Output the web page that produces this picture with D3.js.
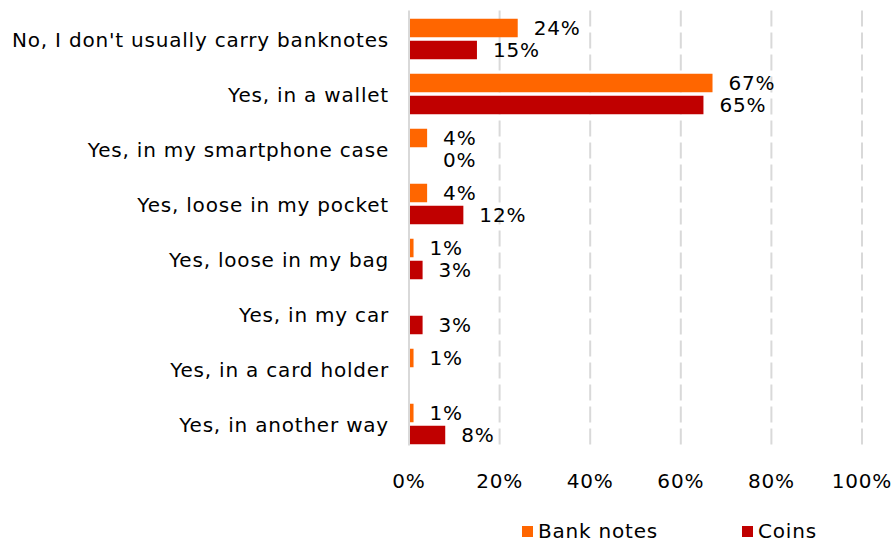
<!DOCTYPE html>
<html>
<head>
<meta charset="utf-8">
<script src="https://cdn.jsdelivr.net/npm/d3@7"></script>
<style>
  html, body { margin: 0; padding: 0; background: #fff; }
  svg { display: block; font-family: "DejaVu Sans", Verdana, sans-serif; }
  svg text { letter-spacing: 0.8px; }
</style>
</head>
<body>
<svg id="chart" width="894" height="542"></svg>
<script>
// Where people carry banknotes and coins (share of respondents, %)
const categories = [
  "No, I don't usually carry banknotes",
  "Yes, in a wallet",
  "Yes, in my smartphone case",
  "Yes, loose in my pocket",
  "Yes, loose in my bag",
  "Yes, in my car",
  "Yes, in a card holder",
  "Yes, in another way"
];
const seriesNames = ["Bank notes", "Coins"];
const bankNotes = [24, 67, 4, 4, 1, null, 1, 1];
const coins     = [15, 65, 0, 12, 3, 3, null, 8];
const xTicks = [0, 20, 40, 60, 80, 100];
const colors = ["#FF6600", "#C00000"];

const svg = d3.select("#chart");
const margin = { left: 409, right: 32, top: 11.5, bottom: 94 };
const W = 894, H = 542;
const FS = 20;

const x = d3.scaleLinear().domain([0, 100]).range([margin.left, W - margin.right]);
const y = d3.scaleBand().domain(categories).range([margin.top, margin.top + 55 * categories.length]).paddingInner(0).paddingOuter(0);
const barH = 18.5, barGap = 3.5;
const sub = d3.scaleOrdinal().domain(seriesNames).range([-(barGap / 2 + barH), barGap / 2]);

const series = [bankNotes, coins];
const rows = [];
series.forEach((vals, si) => {
  vals.forEach((v, ci) => {
    if (v !== null) rows.push({ s: seriesNames[si], si, c: categories[ci], v });
  });
});

const plotTop = margin.top - 1, plotBottom = y.range()[1] - 6;

// dashed vertical gridlines
svg.append("g")
  .selectAll("line")
  .data(xTicks.filter(t => t > 0))
  .join("line")
  .attr("x1", d => x(d)).attr("x2", d => x(d))
  .attr("y1", plotTop).attr("y2", plotBottom)
  .attr("stroke", "#d9d9d9").attr("stroke-width", 2)
  .attr("stroke-dasharray", "16,6");

// bars
svg.append("g")
  .selectAll("rect")
  .data(rows)
  .join("rect")
  .attr("x", x(0))
  .attr("y", d => y(d.c) + y.bandwidth() / 2 + sub(d.s))
  .attr("width", d => x(d.v) - x(0))
  .attr("height", barH)
  .attr("fill", d => colors[d.si]);

// value labels
svg.append("g")
  .selectAll("text")
  .data(rows)
  .join("text")
  .attr("x", d => x(d.v) + (d.v === 0 ? 34 : 16))
  .attr("y", d => y(d.c) + y.bandwidth() / 2 + sub(d.s) + barH / 2)
  .attr("dy", "0.36em")
  .attr("font-size", FS)
  .attr("fill", "#000")
  .text(d => d.v + "%");

// vertical axis line
svg.append("line")
  .attr("x1", x(0)).attr("x2", x(0))
  .attr("y1", plotTop).attr("y2", plotBottom)
  .attr("stroke", "#d9d9d9").attr("stroke-width", 2);

// category labels
svg.append("g")
  .selectAll("text")
  .data(categories)
  .join("text")
  .attr("x", x(0) - 20)
  .attr("y", d => y(d) + y.bandwidth() / 2 + 1)
  .attr("dy", "0.36em")
  .attr("text-anchor", "end")
  .attr("font-size", FS)
  .attr("fill", "#000")
  .text(d => d);

// x tick labels
svg.append("g")
  .selectAll("text")
  .data(xTicks)
  .join("text")
  .attr("x", d => x(d))
  .attr("y", 481)
  .attr("dy", "0.36em")
  .attr("text-anchor", "middle")
  .attr("font-size", FS)
  .attr("fill", "#000")
  .text(d => d + "%");

// legend
const legendX = [522, 742];
const lg = svg.append("g")
  .selectAll("g")
  .data(seriesNames)
  .join("g")
  .attr("transform", (d, i) => `translate(${legendX[i]},526)`);
lg.append("rect").attr("width", 11).attr("height", 11).attr("fill", (d, i) => colors[i]);
lg.append("text")
  .attr("x", 16).attr("y", 11.5)
  .attr("font-size", FS)
  .attr("fill", "#000")
  .text(d => d);
</script>
</body>
</html>
